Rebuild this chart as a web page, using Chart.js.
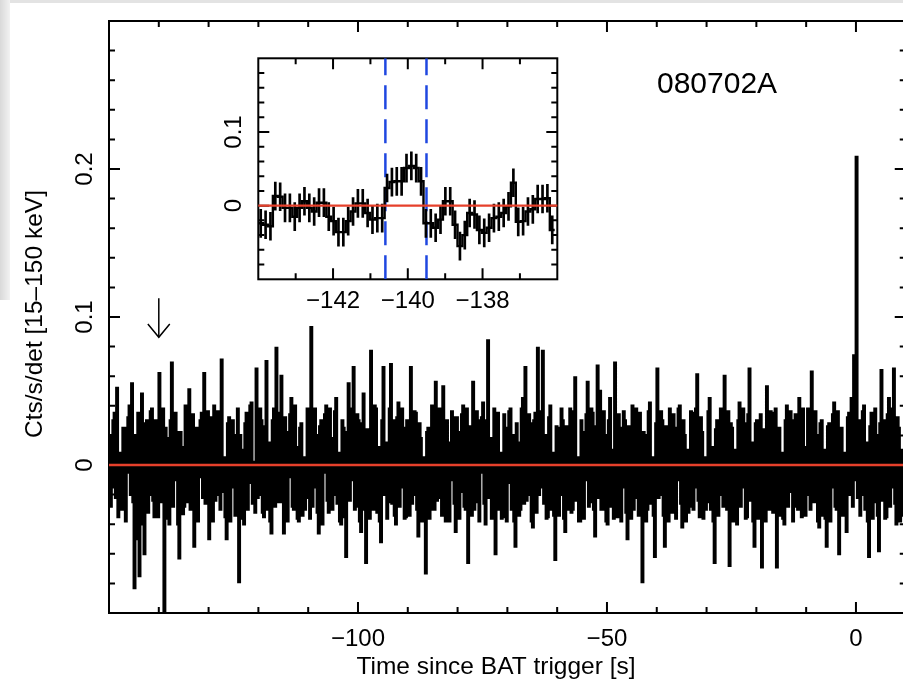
<!DOCTYPE html>
<html>
<head>
<meta charset="utf-8">
<script src="https://cdn.jsdelivr.net/npm/chart.js@4/dist/chart.umd.min.js"></script>
<style>
  html, body { margin: 0; padding: 0; background: #fff; }
  body { width: 903px; height: 681px; overflow: hidden; position: relative; }
  canvas { position: absolute; left: 0; top: 0; }
  .edgeTop { position: absolute; left: 0; top: 0; width: 903px; height: 3px; background: #e3e3e3; }
  .edgeLeft { position: absolute; left: 0; top: 0; width: 10px; height: 300px; background: linear-gradient(to right, #d9d9d9, #f2f2f2); }
</style>
</head>
<body>
<div class="edgeTop"></div>
<div class="edgeLeft"></div>
<canvas id="lcMain" width="910" height="681"></canvas>
<canvas id="lcInset" width="910" height="681"></canvas>
<script>
// binned light curve, rates in units of 1e-3 cts/s/det (one row = 10 s)
const mainStart = -150;
const mainBin = 0.25;
const mainRate = [
  20, -28, -15, 30, 35, -22, 52, -35, 8, -30, -30, 25, 25, -38, -5, 32, 40, -20, 55, -25, -83, 20, -50, 35, -75, 15, 48, -40, -60, 28, 30, -32, -20, 36, 38, -24, -35, 30, 15, -35,
  62, -20, -25, 38, -110, 25, 18, -36, -40, 30, 69, -28, -10, 35, 22, -40, -63, 22, 12, -33, -28, 40, 30, -25, 51, -30, -18, 34, -55, 18, 25, -38, -8, 30, 35, -22, 62, -26, -22, 36,
  -50, 32, 15, -38, 40, -24, -20, 36, 28, -30, 71, -18, 5, -35, -50, 28, 32, -38, -15, 30, 20, -34, -30, 38, -79, 20, 10, -36, -40, 28, 35, -30, -12, 40, 42, -26, 2, -32, 65, -22,
  -20, 38, 30, -32, -35, 26, 70, -30, 15, -38, -46, 30, 38, -28, 79, -20, -25, 35, 60, -25, -46, 32, 22, -38, -8, 34, 45, -28, -30, 40, 12, -36, -38, 25, 28, -34, 5, -30, -22, 38,
  35, -36, 93, -28, -15, 38, 20, -32, -46, 26, 30, -40, -5, 34, 40, -24, -32, 38, 18, -30, -20, 36, 45, -26, 8, -38, -40, 30, 25, -35, -62, 22, 55, -24, -10, 38, 66, -30, -28, 34,
  30, -38, -45, 28, 48, -30, -66, 24, 20, -36, 77, -22, -30, 40, 38, -32, 12, -38, -52, 30, 66, -20, 15, -36, -25, 38, 68, -26, 30, -34, -40, 32, 42, -28, -15, 38, 25, -36, -35, 30,
  10, -34, 66, -26, -20, 36, 35, -30, -48, 28, 18, -38, 5, -32, -73, 22, 25, -36, -30, 40, 12, -30, 56, -24, -22, 38, 28, -34, 53, -28, -38, 30, 15, -38, -10, 36, 32, -26, -45, 32,
  22, -36, -18, 34, 40, -28, -30, 38, -66, 26, 10, -34, 56, -30, -25, 36, 30, -38, -5, 32, 42, -26, -40, 30, 84, -22, 18, -36, -28, 38, -60, 24, 35, -30, 8, -36, -35, 34, 25, -38,
  -12, 36, 38, -30, 20, -38, -55, 28, 15, -34, -30, 38, 45, -26, 66, -24, -20, 34, 28, -38, -42, 30, 35, -32, 79, -20, -15, 36, 77, -26, 20, -36, -35, 32, 40, -30, 8, -34, -64, 26,
  25, -34, -20, 38, 30, -36, -45, 26, 12, -30, 38, -32, -30, 36, 59, -24, 5, -38, -38, 30, 22, -36, -10, 34, 56, -28, -25, 38, 35, -30, -48, 26, 67, -22, 50, -30, -30, 36, 20, -38,
  -40, 30, 45, -28, 10, -36, 69, -24, -35, 34, 25, -38, -15, 36, 30, -32, -50, 26, 18, -36, 40, -30, -22, 38, 8, -34, 35, -28, -79, 22, 20, -38, -30, 36, 42, -26, 5, -34, -62, 28,
  65, -22, -20, 36, 30, -34, -55, 26, 15, -38, 38, -28, -32, 34, 25, -36, -10, 38, 40, -26, -42, 30, 20, -38, 10, -32, -28, 36, 35, -30, -15, 38, 61, -24, -35, 32, 22, -36, 5, -30,
  -25, 36, 45, -30, 12, -38, -66, 24, 30, -34, -20, 38, 38, -28, 60, -22, -30, 36, -68, 28, 25, -38, 10, -34, -40, 30, 42, -28, -15, 38, 28, -36, -35, 34, 65, -24, 15, -38, -55, 28,
  30, -36, -22, 34, -69, 24, 20, -38, 53, -26, -30, 36, 35, -32, -10, 38, -69, 22, 25, -34, 8, -36, -40, 30, 40, -28, -18, 36, 30, -38, -28, 34, 15, -30, 45, -26, -35, 38, 12, -34,
  -20, 38, 35, -30, 63, -22, -25, 36, 20, -38, -42, 28, 30, -34, 10, -36, -55, 26, 28, -38, -15, 34, 42, -28, -30, 36, -60, 24, 25, -34, 8, -30, -45, 32, 35, -20, 45, -28, 74, -10,
  208, -22, 30, -34, -20, 36, 40, -30, 15, -38, -62, 26, 35, -36, -25, 38, 20, -34, -58, 28, 64, -24, 30, -36, -35, 34, 45, -28, -15, 38, 65, -26, -40, 32, 25, -38, 10, -34, -30, 36
];

// zoom on the precursor, finer bins
const insetStart = -144;
const insetBin = 0.13;
const insetRate = [
  -24, -26, -28, 13, 12, -3, -3, -15, -3, 6, -3, -8, 4, 4, -15, -21, -36, -36, -21, -8,
  3, 3, -10, -19, -17, -17, 24, 32, 33, 33, 51, 54, 51, 33, -24, -24, -30, -19, 6, 6,
  -26, -55, -40, -10, -12, -33, -37, -30, -17, -15, -10, -1, 31, -22, -21, -8, -5, 9, 9, 10, -33
];
const insetErr = 19;
const burstWindow = [-140.6, -139.5];
const markerTime = -140;

const mainXMajor = [-100, -50, 0];
const mainXMinor = [-140, -130, -120, -110, -90, -80, -70, -60, -40, -30, -20, -10];
const mainXLabels = ["\u2212100", "\u221250", "0"];
const mainYMajor = [0, 0.1, 0.2];
const mainYMinor = [-0.08, -0.06, -0.04, -0.02, 0.02, 0.04, 0.06, 0.08, 0.12, 0.14, 0.16, 0.18, 0.22, 0.24, 0.26, 0.28];
const mainYLabels = ["0", "0.1", "0.2"];

const insetXMajor = [-142, -140, -138];
const insetXMinor = [-143, -141, -139, -137];
const insetXLabels = ["\u2212142", "\u2212140", "\u2212138"];
const insetYMajor = [0, 0.1];
const insetYMinor = [-0.08, -0.06, -0.04, -0.02, 0.02, 0.04, 0.06, 0.08, 0.12, 0.14, 0.16, 0.18];
const insetYLabels = ["0", "0.1"];

const FONT = '"Liberation Sans", Arial, Helvetica, sans-serif';
const RED = "#e6402b";
const BLUE = "#1f47e0";

function stepPoints(start, bin, vals) {
	const pts = vals.map((v, i) => ({ x: start + i * bin, y: v / 1000 }));
	pts.push({ x: start + vals.length * bin, y: vals[vals.length - 1] / 1000 });
	return pts;
}

// frame + inward ticks go under the data (so the zero line stays on top),
// tick labels and titles are written afterwards
function framePlugin(cfg) {
	return {
		id: cfg.id,
		beforeDatasetsDraw(chart) {
			const ctx = chart.ctx;
			const a = chart.chartArea;
			const xs = chart.scales.x;
			const ys = chart.scales.y;
			ctx.save();
			ctx.strokeStyle = "#000";
			ctx.lineWidth = 2;
			ctx.strokeRect(a.left, a.top, a.right - a.left, a.bottom - a.top);
			ctx.beginPath();
			const xt = (vals, len) => vals.forEach((v) => {
				const p = xs.getPixelForValue(v);
				ctx.moveTo(p, a.bottom); ctx.lineTo(p, a.bottom - len);
				ctx.moveTo(p, a.top); ctx.lineTo(p, a.top + len);
			});
			const yt = (vals, len) => vals.forEach((v) => {
				const p = ys.getPixelForValue(v);
				ctx.moveTo(a.left, p); ctx.lineTo(a.left + len, p);
				ctx.moveTo(a.right, p); ctx.lineTo(a.right - len, p);
			});
			xt(cfg.xMajor, 11); xt(cfg.xMinor, 6);
			yt(cfg.yMajor, 11); yt(cfg.yMinor, 6);
			ctx.stroke();
			ctx.restore();
		},
		afterDraw(chart) {
			const ctx = chart.ctx;
			const xs = chart.scales.x;
			const ys = chart.scales.y;
			ctx.save();
			ctx.fillStyle = "#000";
			ctx.font = "24px " + FONT;
			ctx.textAlign = "center";
			ctx.textBaseline = "alphabetic";
			cfg.xMajor.forEach((v, i) => ctx.fillText(cfg.xLabels[i], xs.getPixelForValue(v), cfg.xLabelY));
			cfg.yMajor.forEach((v, i) => {
				ctx.save();
				ctx.translate(cfg.yLabelX, ys.getPixelForValue(v));
				ctx.rotate(-Math.PI / 2);
				ctx.fillText(cfg.yLabels[i], 0, 0);
				ctx.restore();
			});
			if (cfg.extra) cfg.extra(ctx);
			ctx.restore();
		},
	};
}

const mainChart = new Chart(document.getElementById("lcMain"), {
	type: "line",
	data: {
		datasets: [
			{
				// zero level, runs past both edges and is clipped by the plot area
				data: [{ x: -160, y: 0 }, { x: 20, y: 0 }],
				borderColor: RED,
				borderWidth: 2.4,
				pointRadius: 0,
				order: 0,
			},
			{
				data: stepPoints(mainStart, mainBin, mainRate),
				stepped: "before",
				borderColor: "#000",
				borderWidth: 2.7,
				pointRadius: 0,
				order: 1,
			},
			{
				// arrow marking the precursor
				data: [{ x: markerTime, y: 0.1126 }, { x: markerTime, y: 0.0863 }],
				borderColor: "#000",
				borderWidth: 1.5,
				pointRadius: 0,
				order: 2,
			},
			{
				data: [{ x: markerTime - 2.2, y: 0.0953 }, { x: markerTime, y: 0.0863 }, { x: markerTime + 2.2, y: 0.0953 }],
				borderColor: "#000",
				borderWidth: 1.5,
				pointRadius: 0,
				order: 2,
			},
		],
	},
	options: {
		responsive: false,
		devicePixelRatio: 1,
		animation: false,
		events: [],
		layout: { padding: { left: 109, top: 21, right: 4.25, bottom: 68 } },
		scales: {
			x: { type: "linear", min: -150, max: 10, display: false },
			y: { type: "linear", min: -0.1, max: 0.3, display: false },
		},
		plugins: { legend: { display: false }, tooltip: { enabled: false } },
	},
	plugins: [
		framePlugin({
			id: "mainFrame",
			xMajor: mainXMajor, xMinor: mainXMinor, xLabels: mainXLabels,
			yMajor: mainYMajor, yMinor: mainYMinor, yLabels: mainYLabels,
			xLabelY: 645.5, yLabelX: 91.5,
			extra(ctx) {
				ctx.font = "24.5px " + FONT;
				ctx.fillText("Time since BAT trigger [s]", 496, 673.5);
				ctx.save();
				ctx.translate(42, 314);
				ctx.rotate(-Math.PI / 2);
				ctx.fillText("Cts/s/det [15\u2013150 keV]", 0, 0);
				ctx.restore();
				ctx.font = "30px " + FONT;
				ctx.textAlign = "left";
				ctx.fillText("080702A", 657, 93.3);
			},
		}),
	],
});

const insetCenters = insetRate.map((v, i) => insetStart + (i + 0.5) * insetBin);

const insetChart = new Chart(document.getElementById("lcInset"), {
	type: "line",
	data: {
		datasets: [
			{
				data: [{ x: -145, y: 0 }, { x: -135, y: 0 }],
				borderColor: RED,
				borderWidth: 2.2,
				pointRadius: 0,
				order: 0,
			},
			{
				data: stepPoints(insetStart, insetBin, insetRate),
				stepped: "before",
				borderColor: "#000",
				borderWidth: 2.4,
				pointRadius: 0,
				order: 1,
			},
			{
				type: "bar",
				data: insetRate.map((v, i) => ({ x: insetCenters[i], y: [(v - insetErr) / 1000, (v + insetErr) / 1000] })),
				backgroundColor: "#000",
				borderWidth: 0,
				barThickness: 2,
				order: 2,
			},
			{
				data: [{ x: burstWindow[0], y: -0.1 }, { x: burstWindow[0], y: 0.2 }],
				borderColor: BLUE,
				borderWidth: 2.5,
				borderDash: [24, 10],
				pointRadius: 0,
				order: 3,
			},
			{
				data: [{ x: burstWindow[1], y: -0.1 }, { x: burstWindow[1], y: 0.2 }],
				borderColor: BLUE,
				borderWidth: 2.5,
				borderDash: [24, 10],
				pointRadius: 0,
				order: 3,
			},
		],
	},
	options: {
		responsive: false,
		devicePixelRatio: 1,
		animation: false,
		events: [],
		layout: { padding: { left: 258.3, top: 58.3, right: 352.7, bottom: 401.7 } },
		scales: {
			x: { type: "linear", min: -144, max: -136, offset: false, display: false },
			y: { type: "linear", min: -0.1, max: 0.2, display: false },
		},
		plugins: { legend: { display: false }, tooltip: { enabled: false } },
	},
	plugins: [
		framePlugin({
			id: "insetFrame",
			xMajor: insetXMajor, xMinor: insetXMinor, xLabels: insetXLabels,
			yMajor: insetYMajor, yMinor: insetYMinor, yLabels: insetYLabels,
			xLabelY: 308, yLabelX: 241,
		}),
	],
});
</script>
</body>
</html>
